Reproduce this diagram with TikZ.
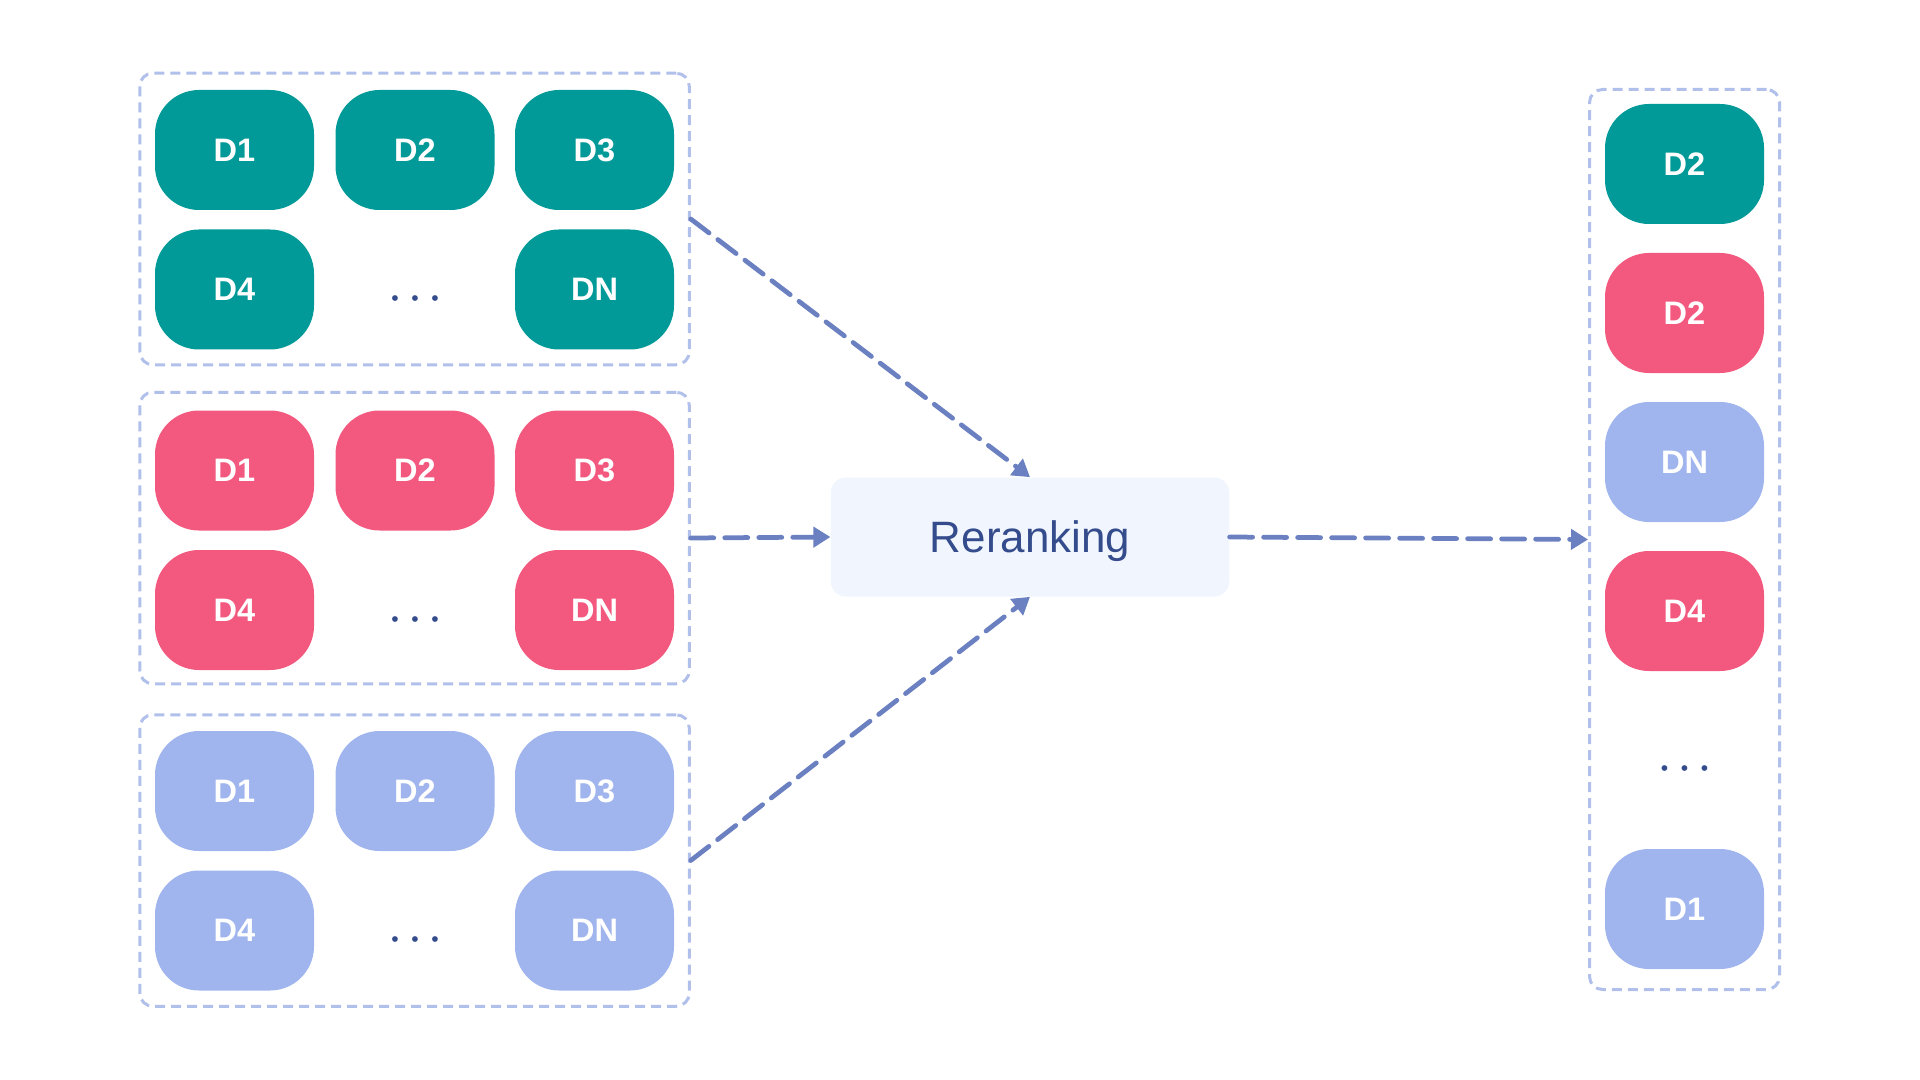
\documentclass[tikz,border=0pt]{standalone}
\usepackage{fontspec}
\setmainfont{Liberation Sans}
\usepackage{xcolor}
\usetikzlibrary{arrows.meta,positioning}

\definecolor{teal1}{HTML}{029A98}
\definecolor{pink1}{HTML}{F3597F}
\definecolor{blue1}{HTML}{A0B4EE}
\definecolor{frame1}{HTML}{B1C0EA}
\definecolor{arrow1}{HTML}{6B80C1}
\definecolor{rank1}{HTML}{F0F5FE}
\definecolor{ink1}{HTML}{354C8C}

\newcommand{\threedots}{\textbullet\hspace{7.2pt}\textbullet\hspace{7.2pt}\textbullet}

\begin{document}
\begin{tikzpicture}[
    % GLOBAL CFG
    >=Triangle,
    % Styles
    doc/.style={% For the D pills
        rectangle,
        rounded corners=0.88cm,
        minimum width=3.18cm,
        minimum height=2.4cm,
        inner sep=0pt,
        text=white,
        font=\bfseries\fontsize{18.5}{20}\selectfont,
        },
    group/.style={% For the dashed boxes
        rectangle,
        rounded corners=0.26cm,
        draw=frame1,
        line width=0.06cm,
        dash pattern=on 0.2cm off 0.12cm,
        inner sep=0pt,
        },
    rank/.style={% For the reranking box
        rectangle,
        rounded corners=0.3cm,
        fill=rank1,
        minimum width=7.97cm,
        minimum height=2.38cm,
        text=ink1,
        text depth=0pt,
        font=\fontsize{25}{30}\selectfont,
        },
    more/.style={% For the dots
        text=ink1,
        inner sep=0pt,
        font=\fontsize{12}{12}\selectfont,
        },
    ArrowD/.style={% Dashed arrows
        line width=0.095cm,
        color=arrow1,
        line cap=round,
        dash pattern=on 0.46cm off 0.22cm,
        arrows={-Triangle[length=0.34cm, width=0.4cm]},
        },
    ]

    \useasboundingbox (0,0) rectangle (38.4,-21.6);

    % Draw the groups named grp#
    \node [group, minimum width=10.99cm, minimum height=5.83cm] (grp1) at (8.29,-4.38) {};
    \node [group, minimum width=10.99cm, minimum height=5.83cm] (grp2) at (8.29,-10.76) {};
    \node [group, minimum width=10.99cm, minimum height=5.83cm] (grp3) at (8.29,-17.21) {};

    % First group
    \node [doc, fill=teal1] (a1) at (4.69,-3.00) {D1};
    \node [doc, fill=teal1] (a2) at (8.30,-3.00) {D2};
    \node [doc, fill=teal1] (a3) at (11.89,-3.00) {D3};
    \node [doc, fill=teal1] (a4) at (4.69,-5.79) {D4};
    \node [more] (a5) at (8.30,-6.02) {\threedots};
    \node [doc, fill=teal1] (a6) at (11.89,-5.79) {DN};

    % Second group
    \node [doc, fill=pink1] (b1) at (4.69,-9.41) {D1};
    \node [doc, fill=pink1] (b2) at (8.30,-9.41) {D2};
    \node [doc, fill=pink1] (b3) at (11.89,-9.41) {D3};
    \node [doc, fill=pink1] (b4) at (4.69,-12.20) {D4};
    \node [more] (b5) at (8.30,-12.43) {\threedots};
    \node [doc, fill=pink1] (b6) at (11.89,-12.20) {DN};

    % Third group
    \node [doc, fill=blue1] (c1) at (4.69,-15.82) {D1};
    \node [doc, fill=blue1] (c2) at (8.30,-15.82) {D2};
    \node [doc, fill=blue1] (c3) at (11.89,-15.82) {D3};
    \node [doc, fill=blue1] (c4) at (4.69,-18.61) {D4};
    \node [more] (c5) at (8.30,-18.84) {\threedots};
    \node [doc, fill=blue1] (c6) at (11.89,-18.61) {DN};

    % Reranking
    \node [rank] (rr) at (20.60,-10.74) {Reranking};

    % Output list
    \node [group, minimum width=3.80cm, minimum height=18.0cm] (out) at (33.69,-10.79) {};
    \node [doc, fill=teal1] (o1) at (33.69,-3.28) {D2};
    \node [doc, fill=pink1] (o2) at (33.69,-6.26) {D2};
    \node [doc, fill=blue1] (o3) at (33.69,-9.24) {DN};
    \node [doc, fill=pink1] (o4) at (33.69,-12.22) {D4};
    \node [more] (o5) at (33.69,-15.42) {\threedots};
    \node [doc, fill=blue1] (o6) at (33.69,-18.18) {D1};

    % Arrows
    \draw [ArrowD] (grp1.east) -- (rr.north);
    \draw [ArrowD] (grp2.east) -- (rr.west);
    \draw [ArrowD] (grp3.east) -- (rr.south);
    \draw [ArrowD] (rr.east) -- (out.west);

\end{tikzpicture}
\end{document}
